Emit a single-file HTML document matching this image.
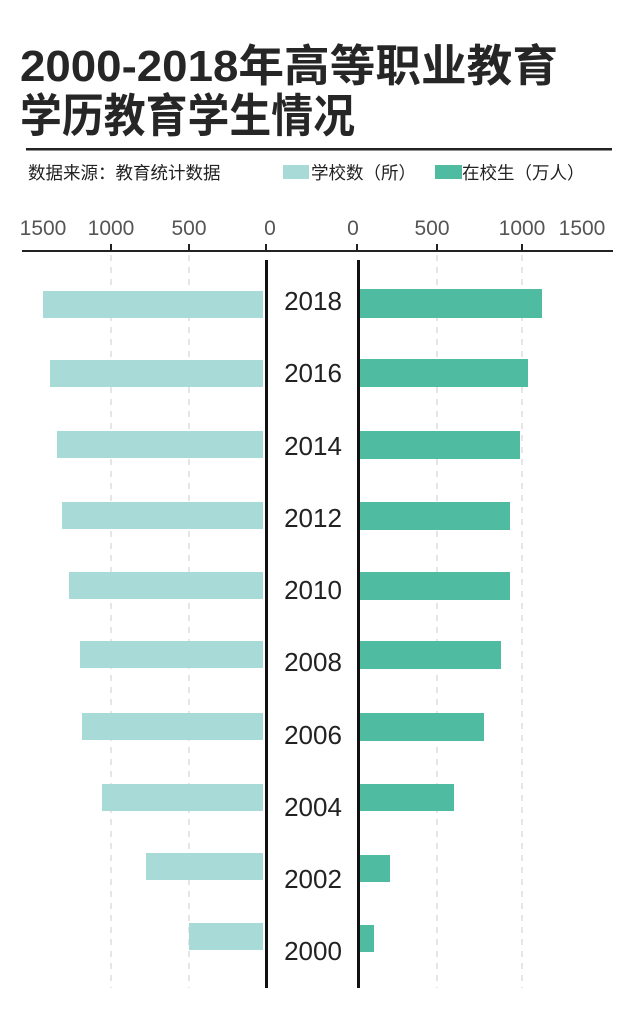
<!DOCTYPE html>
<html><head><meta charset="utf-8"><style>
html,body{margin:0;padding:0;background:#fff;}
svg{display:block;font-family:"Liberation Sans","Noto Sans CJK SC",sans-serif;}
</style></head><body>
<svg width="640" height="1025" viewBox="0 0 640 1025">
<text x="20" y="81" font-size="44" font-weight="bold" fill="#262626" textLength="538" lengthAdjust="spacingAndGlyphs">2000-2018年高等职业教育</text>
<text x="20" y="132" font-size="46" font-weight="bold" fill="#262626" textLength="335" lengthAdjust="spacingAndGlyphs">学历教育学生情况</text>
<rect x="26" y="148" width="586" height="2.5" fill="#222"/>
<text x="28" y="179" font-size="17.5" fill="#222">数据来源：教育统计数据</text>
<rect x="283" y="165" width="26" height="14" fill="#a8dad8"/>
<text x="311" y="179" font-size="17.5" fill="#222">学校数（所）</text>
<rect x="435" y="165" width="27" height="14" fill="#4fbba0"/>
<text x="462" y="179" font-size="17.5" fill="#222">在校生（万人）</text>
<g font-size="21" fill="#555" text-anchor="middle">
<text x="43" y="235">1500</text><text x="111" y="235">1000</text><text x="189" y="235">500</text><text x="270" y="235">0</text>
<text x="353" y="235">0</text><text x="432" y="235">500</text><text x="522" y="235">1000</text><text x="582" y="235">1500</text>
</g>
<rect x="22" y="250" width="591" height="2" fill="#222"/>
<g fill="#222">
<rect x="110" y="244" width="2" height="7"/><rect x="188" y="244" width="2" height="7"/><rect x="265" y="244" width="2" height="7"/>
<rect x="356" y="244" width="2" height="7"/><rect x="436" y="244" width="2" height="7"/><rect x="521" y="244" width="2" height="7"/>
</g>
<g stroke="#ccc" stroke-width="1" stroke-dasharray="6,6">
<line x1="111" y1="255" x2="111" y2="988"/><line x1="189" y1="255" x2="189" y2="988"/>
<line x1="437" y1="255" x2="437" y2="988"/><line x1="522" y1="255" x2="522" y2="988"/>
</g>
<g fill="#a8dad8">
<rect x="43" y="291" width="220" height="27"/>
<rect x="50" y="360" width="213" height="27"/>
<rect x="57" y="431" width="206" height="27"/>
<rect x="62" y="502" width="201" height="27"/>
<rect x="69" y="572" width="194" height="27"/>
<rect x="80" y="641" width="183" height="27"/>
<rect x="82" y="713" width="181" height="27"/>
<rect x="102" y="784" width="161" height="27"/>
<rect x="146" y="853" width="117" height="27"/>
<rect x="189" y="923" width="74" height="27"/>
</g>
<g fill="#4fbba0">
<rect x="360" y="289" width="182" height="29"/>
<rect x="360" y="359" width="168" height="28"/>
<rect x="360" y="431" width="160" height="28"/>
<rect x="360" y="502" width="150" height="28"/>
<rect x="360" y="572" width="150" height="28"/>
<rect x="360" y="641" width="141" height="28"/>
<rect x="360" y="713" width="124" height="28"/>
<rect x="360" y="784" width="94" height="27"/>
<rect x="360" y="855" width="30" height="27"/>
<rect x="360" y="925" width="14" height="27"/>
</g>
<rect x="265" y="260" width="3" height="728" fill="#111"/>
<rect x="357" y="260" width="3" height="728" fill="#111"/>
<g font-size="26" fill="#222" text-anchor="middle">
<text x="313" y="310">2018</text><text x="313" y="382">2016</text><text x="313" y="455">2014</text>
<text x="313" y="527">2012</text><text x="313" y="599">2010</text><text x="313" y="671">2008</text>
<text x="313" y="744">2006</text><text x="313" y="816">2004</text><text x="313" y="888">2002</text>
<text x="313" y="960">2000</text>
</g>
</svg>
</body></html>
